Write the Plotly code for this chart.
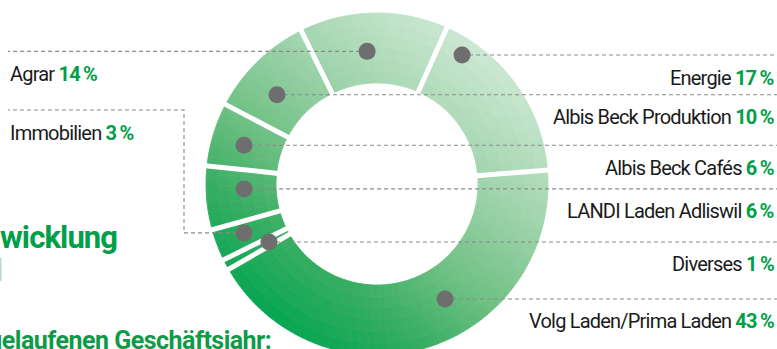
import numpy as np
import plotly.graph_objects as go

# ---------------- data ----------------
labels = ["Agrar", "Energie", "Volg Laden/Prima Laden", "Diverses",
          "Immobilien", "LANDI Laden Adliswil", "Albis Beck Cafés",
          "Albis Beck Produktion"]
shares = [14, 17, 43, 1, 3, 6, 6, 10]          # percent, clockwise order
heading_1 = "wicklung"
heading_2 = "gelaufenen Geschäftsjahr:"

# ---------------- styling / geometry ----------------
W, H = 777, 349
CX, CY = 377.0, 184.0
R_OUT, R_IN = 171.0, 101.0
START = -26.3                       # degrees clockwise from 12 o'clock
GREEN_TXT = "#00a047"
LINE_GREY = "#8a8a8a"
DOT_GREY = "#6e6e6e"
FONT = "Roboto, Liberation Sans Narrow, sans-serif"
LS = "letter-spacing:-0.8px"

# where the dot sits inside each slice: (fraction of slice angle, radius)
dot_place = {
    "Agrar": (0.437, 133), "Energie": (0.152, 154.5),
    "Volg Laden/Prima Laden": (0.414, 133.6), "Diverses": (0.47, 122.6),
    "Immobilien": (0.565, 141.7), "LANDI Laden Adliswil": (0.62, 133),
    "Albis Beck Cafés": (0.47, 138.6), "Albis Beck Produktion": (0.39, 134),
}
left_side = {"Agrar": None, "Immobilien": 110}   # elbow y for routed leader

# gradient stops (lightness -> colour)
stops = [(0.0, (0, 165, 80)), (0.2, (55, 173, 98)), (0.37, (108, 191, 130)),
         (0.6, (158, 211, 170)), (0.85, (200, 230, 207)), (1.0, (218, 239, 223))]


def lerp_color(L):
    L = min(max(L, 0.0), 1.0)
    for (a, ca), (b, cb) in zip(stops[:-1], stops[1:]):
        if L <= b:
            f = (L - a) / (b - a)
            return tuple(int(round(ca[i] + (cb[i] - ca[i]) * f)) for i in range(3))
    return stops[-1][1]


def lightness(x, y):
    return 0.45 + 0.0015 * (x - CX) + 0.002 * (CY - y)


def pt(r, deg):
    t = np.radians(deg)
    return CX + r * np.sin(t), CY - r * np.cos(t)


total = float(sum(shares))
bounds = START + 360.0 * np.concatenate([[0], np.cumsum(shares)]) / total

fig = go.Figure()

# ---- ring, drawn slice by slice as small gradient cells ----
NLEV = 90
groups = {}
NR = 6
for i, v in enumerate(shares):
    a0, a1 = bounds[i], bounds[i + 1]
    na = max(2, int(np.ceil((a1 - a0) / 1.5)))
    angs = np.linspace(a0, a1, na + 1)
    rads = np.linspace(R_IN, R_OUT, NR + 1)
    for j in range(na):
        for k in range(NR):
            am = 0.5 * (angs[j] + angs[j + 1])
            rm = 0.5 * (rads[k] + rads[k + 1])
            xm, ym = pt(rm, am)
            lev = int(round(min(max(lightness(xm, ym), 0), 1) * NLEV))
            arc = np.linspace(angs[j], angs[j + 1], 4)
            xs, ys = [], []
            for a in arc:
                x, y = pt(rads[k + 1], a); xs.append(x); ys.append(y)
            for a in arc[::-1]:
                x, y = pt(rads[k], a); xs.append(x); ys.append(y)
            xs.append(xs[0]); ys.append(ys[0])
            g = groups.setdefault(lev, ([], []))
            g[0].extend(xs + [None]); g[1].extend(ys + [None])

for lev, (xs, ys) in sorted(groups.items()):
    c = lerp_color(lev / NLEV)
    col = "rgb(%d,%d,%d)" % c
    fig.add_trace(go.Scatter(x=xs, y=ys, mode="lines", fill="toself",
                             fillcolor=col, line=dict(color=col, width=0.8),
                             hoverinfo="skip", showlegend=False))

# ---- white gaps between slices ----
for b in bounds[:-1]:
    x0, y0 = pt(R_IN - 4, b)
    x1, y1 = pt(R_OUT + 4, b)
    fig.add_trace(go.Scatter(x=[x0, x1], y=[y0, y1], mode="lines",
                             line=dict(color="white", width=5),
                             hoverinfo="skip", showlegend=False))

# ---- leaders, dots and labels ----
annotations = []
dots_x, dots_y = [], []
for i, (lab, v) in enumerate(zip(labels, shares)):
    frac, rr = dot_place[lab]
    ang = bounds[i] + frac * (bounds[i + 1] - bounds[i])
    dx, dy = pt(rr, ang)
    dots_x.append(dx); dots_y.append(dy)
    txt = (f"<span style='{LS}'>{lab} </span>"
           f"<span style='{LS};color:{GREEN_TXT}'><b>{v}\u2009%</b></span>")
    if lab in left_side:
        elbow = left_side[lab]
        if elbow is None:
            lx, ly = [dx, 8], [dy, dy]
            label_y = dy
        else:
            lx, ly = [dx, 184, 184, 8], [dy, dy, elbow, elbow]
            label_y = elbow
        annotations.append(dict(x=8, y=label_y + 23, xref="x", yref="y",
                                text=txt, showarrow=False, xanchor="left",
                                yanchor="middle",
                                font=dict(family=FONT, size=20, color="#1a1a1a")))
    else:
        lx, ly = [dx, W], [dy, dy]
        annotations.append(dict(x=776, y=dy + 22.5, xref="x", yref="y",
                                text=txt, showarrow=False, xanchor="right",
                                yanchor="middle",
                                font=dict(family=FONT, size=20, color="#1a1a1a")))
    fig.add_trace(go.Scatter(x=lx, y=ly, mode="lines",
                             line=dict(color=LINE_GREY, width=1.1, dash="4px,3px"),
                             hoverinfo="skip", showlegend=False))

fig.add_trace(go.Scatter(x=dots_x, y=dots_y, mode="markers",
                         marker=dict(size=17, color=DOT_GREY),
                         hoverinfo="skip", showlegend=False))

# ---- cut-off background headings ----
annotations.append(dict(x=119, y=237, xref="x", yref="y",
                        text=f"<span style='letter-spacing:-0.9px'><b>{heading_1}</b></span>",
                        showarrow=False, xanchor="right", yanchor="middle",
                        font=dict(family=FONT, size=31, color="#00a04a")))
annotations.append(dict(x=273, y=340, xref="x", yref="y",
                        text=f"<span style='letter-spacing:-0.5px'><b>{heading_2}</b></span>",
                        showarrow=False, xanchor="right", yanchor="middle",
                        font=dict(family=FONT, size=25, color="#0f9a48")))

fig.update_layout(
    width=W, height=H, margin=dict(l=0, r=0, t=0, b=0),
    paper_bgcolor="white", plot_bgcolor="white", showlegend=False,
    xaxis=dict(range=[0, W], visible=False, fixedrange=True),
    yaxis=dict(range=[H, 0], visible=False, fixedrange=True),
    annotations=annotations,
    shapes=[dict(type="rect", xref="x", yref="y", x0=0, x1=1.5, y0=258, y1=281,
                 fillcolor="#b3dcc0", line=dict(width=0), layer="below")],
)

fig.write_html("out.html")
